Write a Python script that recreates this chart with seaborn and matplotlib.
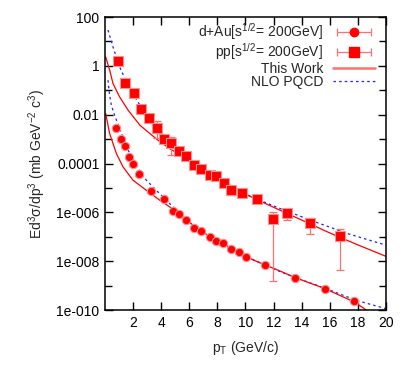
import matplotlib
matplotlib.use("Agg")
import matplotlib.pyplot as plt
import numpy as np
import pandas as pd
import seaborn as sns
from matplotlib.lines import Line2D
from matplotlib.legend_handler import HandlerLine2D, HandlerTuple
from matplotlib.ticker import FixedLocator, NullFormatter

sns.set_style("ticks")
plt.rcParams["font.family"] = ["Liberation Sans", "DejaVu Sans"]
plt.rcParams["mathtext.fontset"] = "custom"
plt.rcParams["mathtext.rm"] = "Liberation Sans"
plt.rcParams["mathtext.it"] = "Liberation Sans:italic"

# ---------- data ----------
# pp, sqrt(s) = 200 GeV (squares)
pp_pt = [0.93, 1.45, 2.06, 2.54, 3.11, 3.70, 4.20, 4.72, 5.29, 5.74, 6.36, 6.83,
         7.45, 7.92, 8.45, 8.99, 9.73, 10.84, 11.94, 12.98, 14.59, 16.70]
pp_y = [1.58, 0.20, 0.081, 0.017, 7.4e-3, 2.75e-3, 1.0e-3, 7.1e-4, 3.3e-4, 2.0e-4,
        8.9e-5, 6.0e-5, 3.4e-5, 3.0e-5, 1.6e-5, 8.7e-6, 6.3e-6, 3.4e-6, 5.6e-7,
        9.5e-7, 3.7e-7, 1.1e-7]
pp_lo = [1.45, 0.18, 0.074, 0.0155, 6.7e-3, 1.12e-3, 9.0e-4, 2.2e-4, 3.0e-4, 1.8e-4,
         8.0e-5, 5.4e-5, 3.0e-5, 2.7e-5, 1.45e-5, 5.0e-6, 4.7e-6, 3.0e-6, 1.55e-9,
         4.8e-7, 1.29e-7, 4.3e-9]
pp_hi = [1.72, 0.22, 0.088, 0.0185, 8.1e-3, 5.5e-3, 1.1e-3, 1.26e-3, 3.6e-4, 2.2e-4,
         9.8e-5, 6.6e-5, 3.8e-5, 3.3e-5, 1.75e-5, 1.23e-5, 7.6e-6, 3.8e-6, 1.05e-6,
         1.32e-6, 5.75e-7, 2.2e-7]

# d+Au, sqrt(s) = 200 GeV (circles)
dau_pt = [0.81, 1.14, 1.40, 1.71, 1.99, 2.44, 3.27, 4.22, 4.81, 5.29, 5.79, 6.31,
          6.86, 7.45, 7.92, 8.40, 8.97, 9.56, 10.04, 11.39, 13.52, 15.66, 17.72]
dau_y = [3.0e-3, 9.8e-4, 5.4e-4, 1.8e-4, 1.0e-4, 3.7e-5, 7.4e-6, 3.5e-6, 1.1e-6,
         8.5e-7, 4.7e-7, 2.4e-7, 1.7e-7, 1.0e-7, 6.5e-8, 5.4e-8, 3.3e-8, 2.3e-8,
         1.45e-8, 7.1e-9, 2.1e-9, 7.6e-10, 2.3e-10]
dau_rel_err = [0.15, 0.18, 0.18, 0.15, 0.15, 0.12, 0.12, 0.15, 0.1, 0.1, 0.12, 0.15,
               0.1, 0.1, 0.1, 0.1, 0.12, 0.12, 0.1, 0.08, 0.06, 0.06, 0.06]

# This Work (solid red)
work_pp_pt = [0.05, 0.33, 0.57, 1.04, 1.64, 2.49, 3.68, 4.63, 5.81, 7.0, 8.0, 9.0,
              10.0, 11.0, 12.46, 14.0, 16.0, 18.0, 20.0]
work_pp_y = [2.34, 0.68, 0.19, 0.054, 0.0155, 3.7e-3, 1.0e-3, 4.0e-4, 1.6e-4, 6.0e-5,
             2.7e-5, 1.2e-5, 5.6e-6, 3.0e-6, 1.23e-6, 4.9e-7, 1.45e-7, 4.7e-8, 1.6e-8]
work_dau_pt = [0.05, 0.33, 0.81, 1.28, 1.99, 2.94, 3.89, 4.6, 5.5, 6.5, 7.5, 8.5,
               9.5, 10.5, 11.4, 12.46, 13.5, 15.66, 17.72, 18.62]
work_dau_y = [0.0112, 1.7e-3, 2.6e-4, 7.4e-5, 2.1e-5, 8.1e-6, 3.2e-6, 1.7e-6, 6.6e-7,
              2.4e-7, 1.0e-7, 5.0e-8, 2.4e-8, 1.17e-8, 7.1e-9, 4.0e-9, 2.2e-9,
              7.6e-10, 2.2e-10, 1.0e-10]

# NLO PQCD (dotted blue)
nlo_pp_pt = [0.21, 0.57, 1.04, 1.5, 2.0, 2.5, 3.2, 4.2, 5.3, 6.4, 7.5, 8.5, 9.7,
             11.0, 12.46, 14.83, 17.2, 20.0]
nlo_pp_y = [29.5, 6.0, 0.91, 0.24, 0.071, 0.024, 6.3e-3, 1.26e-3, 3.2e-4, 8.9e-5,
            3.5e-5, 1.5e-5, 6.6e-6, 3.2e-6, 1.45e-6, 4.4e-7, 1.4e-7, 4.6e-8]
nlo_dau_pt = [0.21, 0.33, 0.45, 0.7, 1.04, 1.52, 2.23, 2.94, 3.89, 4.84, 6.0, 7.0,
              8.0, 9.0, 10.0, 11.4, 12.46, 13.5, 15.66, 17.9, 20.0]
nlo_dau_y = [0.26, 0.063, 0.025, 8.9e-3, 2.8e-3, 5.0e-4, 7.9e-5, 2.1e-5, 5.9e-6,
             1.7e-6, 4.0e-7, 1.5e-7, 6.6e-8, 3.3e-8, 1.6e-8, 7.1e-9, 3.8e-9, 2.2e-9,
             7.9e-10, 2.5e-10, 1.15e-10]

y_tick_vals = [1e2, 1, 1e-2, 1e-4, 1e-6, 1e-8, 1e-10]
y_tick_labels = ["100", "1", "0.01", "0.0001", "1e-006", "1e-008", "1e-010"]
x_ticks = [2, 4, 6, 8, 10, 12, 14, 16, 18, 20]

RED = "#ff0000"
PINK = "#ff7070"
BLUE = "#2020ff"

curves = pd.concat([
    pd.DataFrame({"pt": work_pp_pt, "y": work_pp_y, "curve": "work_pp"}),
    pd.DataFrame({"pt": work_dau_pt, "y": work_dau_y, "curve": "work_dau"}),
    pd.DataFrame({"pt": nlo_pp_pt, "y": nlo_pp_y, "curve": "nlo_pp"}),
    pd.DataFrame({"pt": nlo_dau_pt, "y": nlo_dau_y, "curve": "nlo_dau"}),
])

fig = plt.figure(figsize=(4.15, 3.71), dpi=100)
ax = fig.add_axes([0.253, 0.164, 0.677, 0.79])
ax.set_yscale("log")

for name, grp in curves.groupby("curve"):
    if name.startswith("work"):
        sns.lineplot(data=grp, x="pt", y="y", sort=False, estimator=None, ax=ax,
                     color=RED, lw=0.9, zorder=2)
    else:
        sns.lineplot(data=grp, x="pt", y="y", sort=False, estimator=None, ax=ax,
                     color=BLUE, lw=0.9, dashes=False, linestyle=(0, (2, 2.5)), zorder=2)

pp_y_a = np.array(pp_y)
ax.errorbar(pp_pt, pp_y, yerr=[pp_y_a - np.array(pp_lo), np.array(pp_hi) - pp_y_a],
            fmt="none", ecolor=PINK, elinewidth=0.9, capsize=3, capthick=0.9, zorder=3)
dau_y_a = np.array(dau_y)
dau_e = dau_y_a * np.array(dau_rel_err)
ax.errorbar(dau_pt, dau_y, yerr=[dau_e, dau_e], fmt="none", ecolor=PINK,
            elinewidth=0.9, capsize=3, capthick=0.9, zorder=3)
sns.scatterplot(x=pp_pt, y=pp_y, marker="s", s=42, color=RED, edgecolor="#ff9090",
                linewidth=0.8, ax=ax, zorder=4)
sns.scatterplot(x=dau_pt, y=dau_y, marker="o", s=36, color=RED, edgecolor="#ff9090",
                linewidth=0.8, ax=ax, zorder=4)

ax.set_xlim(0, 20)
ax.set_ylim(1e-10, 100)
ax.set_xticks(x_ticks)
ax.set_xticklabels([str(t) for t in x_ticks])
ax.yaxis.set_major_locator(FixedLocator(y_tick_vals))
ax.set_yticklabels(y_tick_labels)
ax.yaxis.set_minor_locator(FixedLocator([1e1, 1e-1, 1e-3, 1e-5, 1e-7, 1e-9]))
ax.yaxis.set_minor_formatter(NullFormatter())
ax.tick_params(which="both", direction="in", top=True, right=True, width=1,
               labelsize=10, colors="black")
ax.tick_params(which="major", length=6, pad=4)
ax.tick_params(which="minor", length=5)
for sp in ax.spines.values():
    sp.set_linewidth(1.1)
    sp.set_color("black")

ax.set_xlabel("p$_\\mathrm{T}$ (GeV/c)", fontsize=10, labelpad=7)
ax.set_ylabel("Ed$^3$σ/dp$^3$ (mb GeV$^{-2}$ c$^3$)", fontsize=10, labelpad=6)

# gnuplot-style key: text right aligned, sample to the right
cap = dict(ls="-", color=PINK, lw=0.9, marker="|", markersize=6, markeredgewidth=0.9)
dau_cap = Line2D([], [], **cap)
pp_cap = Line2D([], [], **cap)
dau_dot = Line2D([], [], ls="none", marker="o", color=RED, markersize=6)
pp_dot = Line2D([], [], ls="none", marker="s", color=RED, markersize=6.5)
work_h = Line2D([], [], color=PINK, lw=1.8)
nlo_h = Line2D([], [], color=BLUE, lw=0.9, ls=(0, (2, 2.5)))
handles = [(dau_cap, dau_dot), (pp_cap, pp_dot), work_h, nlo_h]
labels = ["d+Au[s$^{1/2}$= 200GeV]", "pp[s$^{1/2}$= 200GeV]", "This Work", "NLO PQCD"]
hmap = {dau_cap: HandlerLine2D(numpoints=2), pp_cap: HandlerLine2D(numpoints=2),
        dau_dot: HandlerLine2D(numpoints=1), pp_dot: HandlerLine2D(numpoints=1),
        tuple: HandlerTuple(ndivide=1)}
leg = ax.legend(handles, labels, handler_map=hmap, loc="upper right", frameon=False,
                markerfirst=False, fontsize=10, handlelength=3.0, handletextpad=0.7,
                labelspacing=-0.05, borderaxespad=0.0, borderpad=0.3,
                bbox_to_anchor=(0.975, 1.0))
for t in leg.get_texts():
    t.set_ha("right")
leg._legend_box.align = "right"

fig.savefig("out.png", dpi=100, facecolor="white")
